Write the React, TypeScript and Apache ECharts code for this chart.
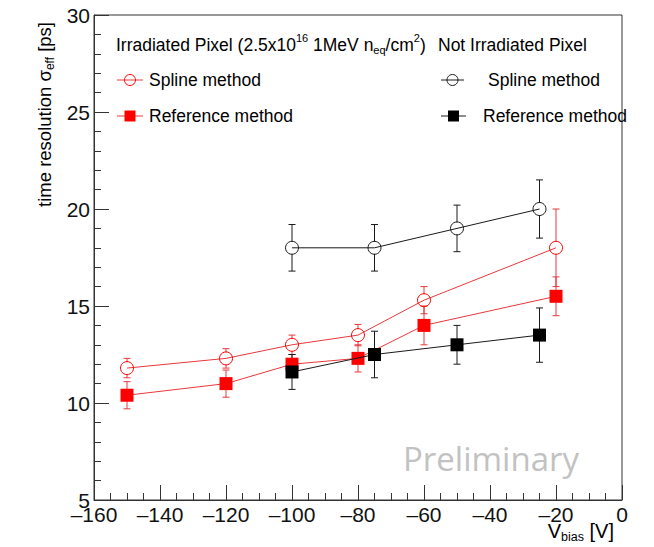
import React, { useEffect, useRef } from 'react';
import * as echarts from 'echarts';

// ---- data ----
const irrVoltages = [-150, -120, -100, -80, -60, -20];
const irrSpline = [11.8, 12.3, 13.0, 13.5, 15.3, 18.0];
const irrSplineErr = [0.5, 0.5, 0.5, 0.55, 0.7, 2.0];
const irrReference = [10.4, 11.0, 12.0, 12.3, 14.0, 15.5];
const irrReferenceErr = [0.7, 0.7, 0.5, 0.7, 1.0, 1.0];

const nonVoltages = [-100, -75, -50, -25];
const nonSpline = [18.0, 18.0, 19.0, 20.0];
const nonSplineErr = [1.2, 1.2, 1.2, 1.5];
const nonReference = [11.6, 12.5, 13.0, 13.5];
const nonReferenceErr = [0.9, 1.2, 1.0, 1.4];

const legendHeaders = ['Irradiated Pixel', 'Not Irradiated Pixel'];
const legendNames = ['Spline method', 'Reference method'];

const RED = '#ff0000';
const RED_LINE = '#e8383c';
const BLACK = '#1a1a1a';
const AXIS = '#333333';
const FONT = '"Liberation Sans", Arial, Helvetica, sans-serif';

let measureCtx: CanvasRenderingContext2D | null = null;
function tw(text: string, size: number, family = FONT): number {
  if (!measureCtx) measureCtx = document.createElement('canvas').getContext('2d');
  if (!measureCtx) return text.length * size * 0.55;
  measureCtx.font = `${size}px ${family}`;
  return measureCtx.measureText(text).width;
}

type Piece = { t: string; s: number; dy: number };
function piecesWidth(pieces: Piece[]) {
  return pieces.reduce((a, p) => a + tw(p.t, p.s), 0);
}
function run(pieces: Piece[], x0: number, y0: number, color: string): any[] {
  let x = x0;
  const out: any[] = [];
  for (const p of pieces) {
    out.push({
      type: 'text',
      x,
      y: y0 + p.dy,
      silent: true,
      style: {
        text: p.t,
        fontSize: p.s,
        fontFamily: FONT,
        fill: color,
        align: 'left',
        verticalAlign: 'middle',
      },
    });
    x += tw(p.t, p.s);
  }
  return out;
}

function errRender(color: string, gap: number) {
  return (params: any, api: any) => {
    const x = api.value(0);
    const y = api.value(1);
    const e = api.value(2);
    const c = api.coord([x, y]);
    const t = api.coord([x, y + e]);
    const b = api.coord([x, y - e]);
    const hw = 3.5;
    const style = { stroke: color, lineWidth: 1, fill: null };
    const children: any[] = [];
    if (c[1] - gap > t[1])
      children.push({ type: 'line', shape: { x1: c[0], y1: t[1], x2: c[0], y2: c[1] - gap }, style });
    if (b[1] > c[1] + gap)
      children.push({ type: 'line', shape: { x1: c[0], y1: c[1] + gap, x2: c[0], y2: b[1] }, style });
    children.push({ type: 'line', shape: { x1: c[0] - hw, y1: t[1], x2: c[0] + hw, y2: t[1] }, style });
    children.push({ type: 'line', shape: { x1: c[0] - hw, y1: b[1], x2: c[0] + hw, y2: b[1] }, style });
    return { type: 'group', children };
  };
}

function dashNum(v: number) {
  return v < 0 ? '\u2013' + String(-v) : String(v);
}

export default function App() {
  const ref = useRef<HTMLDivElement>(null);

  useEffect(() => {
    if (!ref.current) return;
    const chart = echarts.init(ref.current, null, { renderer: 'svg' });

    const irrSplineData = irrVoltages.map((v, i) => [v, irrSpline[i]]);
    const irrRefData = irrVoltages.map((v, i) => [v, irrReference[i]]);
    const nonSplineData = nonVoltages.map((v, i) => [v, nonSpline[i]]);
    const nonRefData = nonVoltages.map((v, i) => [v, nonReference[i]]);

    const errSeries = (data: number[][], color: string, gap: number) => ({
      type: 'custom',
      renderItem: errRender(color, gap),
      data,
      encode: { x: 0, y: 1 },
      z: 1,
      silent: true,
    });

    // --- texts with sub/superscripts ---
    const LS = 17.5;
    const SS = 11;
    const headerPieces: Piece[] = [
      { t: legendHeaders[0] + ' (2.5x10', s: LS, dy: 0 },
      { t: '16', s: SS, dy: -7 },
      { t: ' 1MeV n', s: LS, dy: 0 },
      { t: 'eq', s: SS, dy: 5 },
      { t: '/cm', s: LS, dy: 0 },
      { t: '2', s: SS, dy: -7 },
      { t: ')', s: LS, dy: 0 },
    ];

    const TS = 18.5;
    const yTitle: Piece[] = [
      { t: 'time resolution \u03c3', s: TS, dy: 0 },
      { t: 'eff', s: 12, dy: 6 },
      { t: ' [ps]', s: TS, dy: 0 },
    ];
    const yTitleW = piecesWidth(yTitle);

    const xTitle: Piece[] = [
      { t: 'V', s: 20, dy: 0 },
      { t: 'bias', s: 12.5, dy: 6 },
      { t: ' [V]', s: 20, dy: 0 },
    ];
    const xTitleW = piecesWidth(xTitle);

    const legendText = (text: string, x: number, y: number, color = '#000') => ({
      type: 'text',
      x,
      y,
      silent: true,
      style: { text, fontSize: LS, fontFamily: FONT, fill: color, align: 'left', verticalAlign: 'middle' },
    });

    const graphic: any[] = [
      // Preliminary watermark
      {
        type: 'text',
        x: 491,
        y: 458,
        silent: true,
        style: {
          text: 'Preliminary',
          fontSize: 33,
          fontFamily: '"Open Sans", "Noto Sans", sans-serif',
          fill: '#c2c2c2',
          align: 'center',
          verticalAlign: 'middle',
        },
      },
      // legend headers
      ...run(headerPieces, 116, 45, '#000'),
      legendText(legendHeaders[1], 438, 45),
      // red spline
      { type: 'line', silent: true, shape: { x1: 117, y1: 80, x2: 143, y2: 80 }, style: { stroke: RED_LINE, lineWidth: 1 } },
      { type: 'circle', silent: true, shape: { cx: 130, cy: 80, r: 5.5 }, style: { fill: '#fff', stroke: RED, lineWidth: 1 } },
      { type: 'line', silent: true, shape: { x1: 124.5, y1: 80, x2: 135.5, y2: 80 }, style: { stroke: RED_LINE, lineWidth: 1 } },
      legendText(legendNames[0], 149, 80),
      // red reference
      { type: 'line', silent: true, shape: { x1: 117, y1: 116, x2: 143, y2: 116 }, style: { stroke: RED_LINE, lineWidth: 1 } },
      { type: 'rect', silent: true, shape: { x: 124.5, y: 110.5, width: 11, height: 11 }, style: { fill: RED } },
      legendText(legendNames[1], 149, 116),
      // black spline
      { type: 'line', silent: true, shape: { x1: 441, y1: 80, x2: 464, y2: 80 }, style: { stroke: BLACK, lineWidth: 1 } },
      { type: 'circle', silent: true, shape: { cx: 452.5, cy: 80, r: 5.5 }, style: { fill: '#fff', stroke: BLACK, lineWidth: 1 } },
      { type: 'line', silent: true, shape: { x1: 447, y1: 80, x2: 458, y2: 80 }, style: { stroke: BLACK, lineWidth: 1 } },
      legendText(legendNames[0], 488, 80),
      // black reference
      { type: 'line', silent: true, shape: { x1: 441, y1: 116, x2: 466, y2: 116 }, style: { stroke: BLACK, lineWidth: 1 } },
      { type: 'rect', silent: true, shape: { x: 448, y: 110.5, width: 11, height: 11 }, style: { fill: '#000' } },
      legendText(legendNames[1], 483, 116),
      // y axis title (rotated)
      {
        type: 'group',
        x: 44,
        y: 22 + yTitleW,
        rotation: Math.PI / 2,
        children: run(yTitle, 0, 0, '#000'),
      },
      // x axis title
      ...run(xTitle, 614 - xTitleW, 531, '#000'),
    ];

    const axisCommon = {
      type: 'value',
      axisLine: { show: true, onZero: false, lineStyle: { color: AXIS, width: 1 } },
      axisTick: { show: true, inside: true, length: 15, lineStyle: { color: AXIS, width: 1 } },
      minorTick: { show: true, length: 7, lineStyle: { color: AXIS, width: 1 } },
      splitLine: { show: false },
      minorSplitLine: { show: false },
    };

    chart.setOption({
      animation: false,
      backgroundColor: '#ffffff',
      grid: {
        left: 94,
        right: 32,
        top: 15,
        bottom: 47,
        show: true,
        borderColor: AXIS,
        borderWidth: 1,
        backgroundColor: 'transparent',
      },
      xAxis: {
        ...axisCommon,
        min: -160,
        max: 0,
        interval: 20,
        minorTick: { ...axisCommon.minorTick, splitNumber: 4 },
        axisLabel: {
          fontSize: 21,
          color: '#111',
          fontFamily: FONT,
          margin: 4,
          formatter: (v: number) => dashNum(v),
        },
      },
      yAxis: {
        ...axisCommon,
        min: 5,
        max: 30,
        interval: 5,
        minorTick: { ...axisCommon.minorTick, splitNumber: 5 },
        axisLabel: {
          fontSize: 21,
          color: '#111',
          fontFamily: FONT,
          margin: 4,
          formatter: (v: number) => String(v),
        },
      },
      graphic,
      series: [
        errSeries(irrVoltages.map((v, i) => [v, irrSpline[i], irrSplineErr[i]]), RED_LINE, 6),
        errSeries(irrVoltages.map((v, i) => [v, irrReference[i], irrReferenceErr[i]]), RED_LINE, 6),
        errSeries(nonVoltages.map((v, i) => [v, nonSpline[i], nonSplineErr[i]]), BLACK, 6),
        errSeries(nonVoltages.map((v, i) => [v, nonReference[i], nonReferenceErr[i]]), BLACK, 6),
        {
          name: 'Irradiated spline',
          type: 'line',
          data: irrSplineData,
          symbol: 'circle',
          symbolSize: 13,
          z: 3,
          itemStyle: { color: 'rgba(255,255,255,0)', borderColor: RED, borderWidth: 1 },
          lineStyle: { color: RED_LINE, width: 1 },
        },
        {
          name: 'Irradiated reference',
          type: 'line',
          data: irrRefData,
          symbol: 'rect',
          symbolSize: 13,
          z: 3,
          itemStyle: { color: RED },
          lineStyle: { color: RED_LINE, width: 1 },
        },
        {
          name: 'Not irradiated spline',
          type: 'line',
          data: nonSplineData,
          symbol: 'circle',
          symbolSize: 13,
          z: 3,
          itemStyle: { color: 'rgba(255,255,255,0)', borderColor: BLACK, borderWidth: 1 },
          lineStyle: { color: BLACK, width: 1 },
        },
        {
          name: 'Not irradiated reference',
          type: 'line',
          data: nonRefData,
          symbol: 'rect',
          symbolSize: 13,
          z: 4,
          itemStyle: { color: '#000' },
          lineStyle: { color: BLACK, width: 1 },
        },
      ],
    });

    return () => chart.dispose();
  }, []);

  return (
    <div
      ref={ref}
      style={{ position: 'fixed', left: 0, top: 0, width: 654, height: 547, background: '#fff' }}
    />
  );
}
